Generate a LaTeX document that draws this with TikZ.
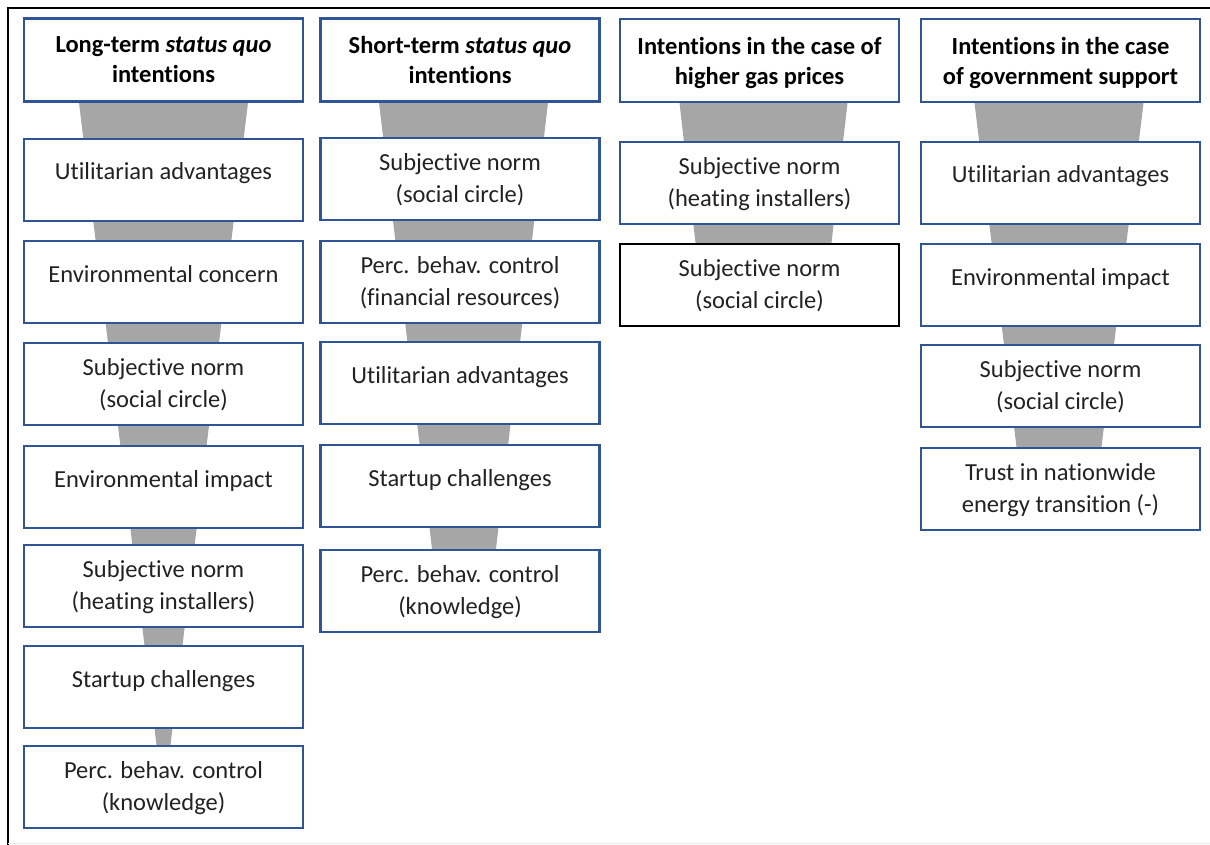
\documentclass[tikz,border=0pt]{standalone}
\usepackage{fontspec}
\setmainfont{Carlito}[Ligatures=NoCommon]
\usetikzlibrary{calc,backgrounds}
\definecolor{boxblue}{HTML}{2F5597}
\definecolor{funnelgray}{HTML}{A6A6A6}
\definecolor{bodytext}{HTML}{222222}
\begin{document}
\begin{tikzpicture}[x=1pt,y=-1pt,
  box/.style={draw=boxblue, line width=2.2pt, fill=white, minimum width=279pt,
    minimum height=82pt, inner sep=0pt, align=center, text=bodytext,
    font=\fontsize{24.5}{32}\selectfont, text depth=2pt},
  single/.style={text height=17pt, text depth=17pt},
  head/.style={box, minimum height=83pt, text=black,
    font=\bfseries\fontsize{24.5}{30}\selectfont, text depth=-4pt},
  plainbox/.style={box, draw=black},
  funnel/.style={fill=funnelgray, draw=none}]
\useasboundingbox (0,0) rectangle (1210,845);

% outer frame
\draw[line width=2.5pt, black] (8,845) -- (8,8) -- (1210,8);
\draw[line width=1pt, black!8] (8,843.5) -- (1210,843.5);

% column 1: long-term status quo
\node[head, text depth=-8pt] (h1) at (163.5,60) {Long-term \textit{status quo}\\intentions};
\node[box,single] (a1) at (163.5,180) {Utilitarian advantages};
\node[box,single] (a2) at (163.5,282) {Environmental concern};
\node[box] (a3) at (163.5,384) {Subjective norm\\(social circle)};
\node[box,single] (a4) at (163.5,487) {Environmental impact};
\node[box] (a5) at (163.5,586) {Subjective norm\\(heating installers)};
\node[box,single] (a6) at (163.5,687) {Startup challenges};
\node[box] (a7) at (163.5,787) {Perc. behav. control\\(knowledge)};

% column 2: short-term status quo
\node[head, text depth=-8pt] (h2) at (460,60) {Short-term \textit{status quo}\\intentions};
\node[box] (b1) at (460,179) {Subjective norm\\(social circle)};
\node[box] (b2) at (460,282) {Perc. behav. control\\(financial resources)};
\node[box,single] (b3) at (460,383) {Utilitarian advantages};
\node[box,single] (b4) at (460,486) {Startup challenges};
\node[box] (b5) at (460,591) {Perc. behav. control\\(knowledge)};

% column 3: higher gas prices
\node[head] (h3) at (759.5,60.5) {Intentions in the case of\\higher gas prices};
\node[box] (c1) at (759.5,183) {Subjective norm\\(heating installers)};
\node[plainbox] (c2) at (759.5,285) {Subjective norm\\(social circle)};

% column 4: government support
\node[head] (h4) at (1060.5,60.5) {Intentions in the case\\of government support};
\node[box,single] (d1) at (1060.5,183) {Utilitarian advantages};
\node[box,single] (d2) at (1060.5,285) {Environmental impact};
\node[box] (d3) at (1060.5,386) {Subjective norm\\(social circle)};
\node[box] (d4) at (1060.5,489) {Trust in nationwide\\energy transition (-)};

% funnels narrowing from each header down to its last factor
\begin{scope}[on background layer]
  \fill[funnel] ($(h1.south)+(-84.5,0)$) -- ($(h1.south)+(84.5,0)$)
    -- ($(a7.north)+(7,0)$) -- ($(a7.north)+(-7,0)$) -- cycle;
  \fill[funnel] ($(h2.south)+(-81,0)$) -- ($(h2.south)+(88,0)$)
    -- ($(b5.north)+(36,0)$) -- ($(b5.north)+(-28,0)$) -- cycle;
  \fill[funnel] ($(h3.south)+(-80,0)$) -- ($(h3.south)+(88,0)$)
    -- ($(c2.north)+(72,0)$) -- ($(c2.north)+(-64,0)$) -- cycle;
  \fill[funnel] ($(h4.south)+(-86,0)$) -- ($(h4.south)+(83,0)$)
    -- ($(d4.north)+(41,0)$) -- ($(d4.north)+(-44,0)$) -- cycle;
\end{scope}
\end{tikzpicture}
\end{document}
